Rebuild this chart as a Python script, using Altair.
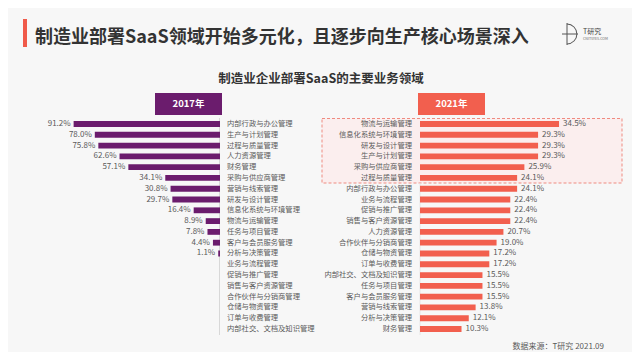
import altair as alt
import pandas as pd

cats_2017 = ["内部行政与办公管理", "生产与计划管理", "过程与质量管理", "人力资源管理", "财务管理",
             "采购与供应商管理", "营销与线索管理", "研发与设计管理", "信息化系统与环境管理", "物流与运输管理",
             "任务与项目管理", "客户与会员服务管理", "分析与决策管理", "业务与流程管理", "促销与推广管理",
             "销售与客户资源管理", "合作伙伴与分销商管理", "仓储与物资管理", "订单与收费管理", "内部社交、文档及知识管理"]
vals_2017 = [91.2, 78.0, 75.8, 62.6, 57.1, 34.1, 30.8, 29.7, 16.4, 8.9, 7.8, 4.4, 1.1,
             None, None, None, None, None, None, None]

cats_2021 = ["物流与运输管理", "信息化系统与环境管理", "研发与设计管理", "生产与计划管理", "采购与供应商管理",
             "过程与质量管理", "内部行政与办公管理", "业务与流程管理", "促销与推广管理", "销售与客户资源管理",
             "人力资源管理", "合作伙伴与分销商管理", "仓储与物资管理", "订单与收费管理", "内部社交、文档及知识管理",
             "任务与项目管理", "客户与会员服务管理", "营销与线索管理", "分析与决策管理", "财务管理"]
vals_2021 = [34.5, 29.3, 29.3, 29.3, 25.9, 24.1, 24.1, 22.4, 22.4, 22.4, 20.7, 19.0, 17.2, 17.2,
             15.5, 15.5, 15.5, 13.8, 12.1, 10.3]

title = "制造业部署SaaS领域开始多元化，且逐步向生产核心场景深入"
subtitle = "制造业企业部署SaaS的主要业务领域"
source = "数据来源：T研究 2021.09"

FONT = "Noto Sans CJK SC"
PURPLE = "#6b1c6d"
SALMON = "#f25f4e"
GRAY = "#5a5a5a"

df17 = pd.DataFrame({"rank": list(range(20)), "cat": cats_2017, "v": vals_2017})
df21 = pd.DataFrame({"rank": list(range(20)), "cat": cats_2021, "v": vals_2021})

yscale = alt.Scale(domain=list(range(20)), range=[110.6, 326.4], paddingInner=0.46, paddingOuter=0.23)
Y = alt.Y("rank:O", scale=yscale, axis=None)
x17 = alt.Scale(domain=[0, 100], range=[212, 51.5])
x21 = alt.Scale(domain=[0, 40], range=[412, 573.2])

base17 = alt.Chart(df17)
base21 = alt.Chart(df21)

left_line = alt.Chart(pd.DataFrame({"a": [0]})).mark_rule(color="#d8d8d8", strokeWidth=1).encode(
    x=alt.value(211.5), y=alt.value(110), y2=alt.value(327))
right_line = alt.Chart(pd.DataFrame({"a": [0]})).mark_rule(color="#e6e6e6", strokeWidth=1).encode(
    x=alt.value(412), y=alt.value(175), y2=alt.value(327))

dash_box = alt.Chart(pd.DataFrame({"a": [0]})).mark_rect(
    fill="#fbeeee", stroke="#ef8b80", strokeDash=[3, 2], strokeWidth=1).encode(
    x=alt.value(314), x2=alt.value(614), y=alt.value(110.5), y2=alt.value(175))

bars17 = base17.transform_filter("isValid(datum.v)").mark_bar(color=PURPLE).encode(
    x=alt.X("v:Q", scale=x17, axis=None), y=Y)
vals17 = base17.transform_filter("isValid(datum.v)").transform_calculate(
    lab="format(datum.v, '.1f') + '%'").mark_text(
    align="right", baseline="middle", dx=-3, font=FONT, fontSize=8, color=GRAY).encode(
    x=alt.X("v:Q", scale=x17, axis=None), y=Y, text="lab:N")
labs17 = base17.mark_text(align="left", baseline="middle", font=FONT, fontSize=7.3, color=GRAY).encode(
    x=alt.value(219), y=Y, text="cat:N")

bars21 = base21.mark_bar(color=SALMON).encode(
    x=alt.X("v:Q", scale=x21, axis=None), y=Y)
vals21 = base21.transform_calculate(
    lab="format(datum.v, '.1f') + '%'").mark_text(
    align="left", baseline="middle", dx=4, font=FONT, fontSize=8, color=GRAY).encode(
    x=alt.X("v:Q", scale=x21, axis=None), y=Y, text="lab:N")
labs21 = base21.mark_text(align="right", baseline="middle", font=FONT, fontSize=7.3, color=GRAY).encode(
    x=alt.value(404), y=Y, text="cat:N")

one = pd.DataFrame({"a": [0]})
hdr17 = alt.Chart(one).mark_rect(color=PURPLE).encode(
    x=alt.value(147), x2=alt.value(214), y=alt.value(85), y2=alt.value(107))
hdr21 = alt.Chart(one).mark_rect(color=SALMON).encode(
    x=alt.value(410), x2=alt.value(477), y=alt.value(85), y2=alt.value(107))
hdr17t = alt.Chart(one).mark_text(text="2017年", font=FONT, fontSize=9.5, fontWeight="bold",
                                  color="white", align="center", baseline="middle").encode(
    x=alt.value(180.5), y=alt.value(96))
hdr21t = alt.Chart(one).mark_text(text="2021年", font=FONT, fontSize=9.5, fontWeight="bold",
                                  color="white", align="center", baseline="middle").encode(
    x=alt.value(443.5), y=alt.value(96))

accent = alt.Chart(one).mark_rect(color="#f05a4a").encode(
    x=alt.value(15), x2=alt.value(19), y=alt.value(11), y2=alt.value(39))
title_t = alt.Chart(one).mark_text(text=title, font=FONT, fontSize=18, fontWeight="bold",
                                   color="#333333", align="left", baseline="middle").encode(
    x=alt.value(27), y=alt.value(29.5))
sub_t = alt.Chart(one).mark_text(text=subtitle, font=FONT, fontSize=12.5, fontWeight="bold",
                                 color="#333333", align="center", baseline="middle").encode(
    x=alt.value(313), y=alt.value(71))
src_t = alt.Chart(one).mark_text(text=source, font=FONT, fontSize=8, color=GRAY,
                                 align="right", baseline="middle").encode(
    x=alt.value(596), y=alt.value(339))

# logo
logo_v = alt.Chart(one).mark_rule(color="#555555", strokeWidth=1).encode(
    x=alt.value(559), y=alt.value(15), y2=alt.value(37))
logo_h = alt.Chart(one).mark_rule(color="#555555", strokeWidth=1).encode(
    x=alt.value(554), x2=alt.value(570), y=alt.value(26))
logo_arc = alt.Chart(one).mark_arc(theta=0, theta2=3.14159, innerRadius=9.4, outerRadius=10.4,
                                   color="#555555").encode(x=alt.value(559), y=alt.value(26))
logo_t1 = alt.Chart(one).mark_text(text="T研究", font=FONT, fontSize=7, color="#444444",
                                   align="left", baseline="middle").encode(x=alt.value(575), y=alt.value(24))
logo_t2 = alt.Chart(one).mark_text(text="CNITSYES.COM", font=FONT, fontSize=3.6, color="#666666",
                                   align="left", baseline="middle").encode(x=alt.value(575), y=alt.value(31))

chart = alt.layer(
    dash_box, left_line, right_line,
    bars17, vals17, labs17, bars21, vals21, labs21,
    hdr17, hdr21, hdr17t, hdr21t, accent, title_t, sub_t, src_t,
    logo_v, logo_h, logo_arc, logo_t1, logo_t2,
).resolve_scale(x="independent").properties(
    width=624, height=344, padding=0, autosize=alt.AutoSizeParams(type="none"),
    background="#f7f7f7",
).configure_view(stroke=None)

chart.save("out.html", embed_options={"renderer": "svg", "actions": False})
